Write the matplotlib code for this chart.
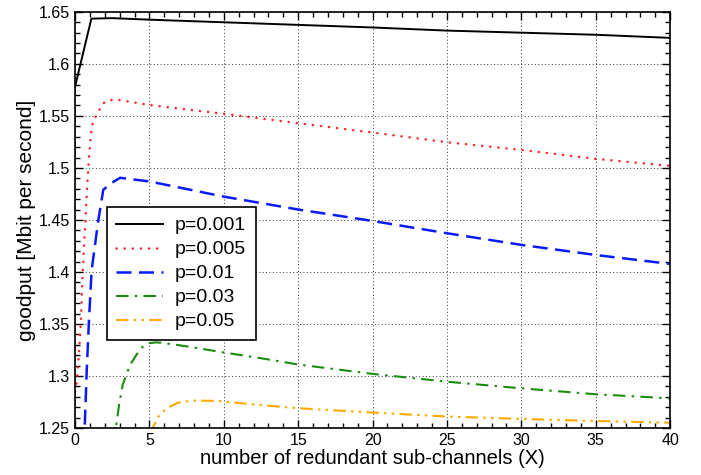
import matplotlib
matplotlib.use("Agg")
import matplotlib.pyplot as plt
from matplotlib.ticker import MultipleLocator

plt.rcParams['font.family'] = ['Liberation Sans', 'DejaVu Sans']

# goodput curves, one per loss rate p
x_001 = [0, 1.1, 2.5, 5, 10, 15, 20, 25, 30, 35, 40]
y_001 = [1.578, 1.6435, 1.644, 1.6425, 1.640, 1.6375, 1.635, 1.632, 1.630, 1.628, 1.625]

x_005 = [0, 0.11, 0.27, 0.4, 0.52, 0.79, 0.94, 1.12, 1.5, 2.0, 2.5, 3.0, 5, 10, 15, 20, 25, 30, 35, 40]
y_005 = [1.285, 1.293, 1.322, 1.354, 1.40, 1.475, 1.511, 1.540, 1.553, 1.5635, 1.5655, 1.5652, 1.5605, 1.552,
         1.543, 1.534, 1.5247, 1.5173, 1.5087, 1.502]

x_01 = [0.55, 0.79, 0.94, 1.12, 1.57, 1.9, 2.47, 3.03, 5, 10, 15, 20, 25, 30, 35, 40]
y_01 = [1.21, 1.3058, 1.354, 1.402, 1.45, 1.479, 1.4856, 1.4905, 1.487, 1.4724, 1.460, 1.449, 1.4372, 1.426,
        1.4163, 1.4077]

x_03 = [2.6, 2.96, 3.2, 3.7, 4.41, 4.93, 5.4, 5.82, 7.73, 9.63, 12.4, 15, 20, 25, 30, 35, 40]
y_03 = [1.235, 1.272, 1.2913, 1.3106, 1.3266, 1.3314, 1.3322, 1.332, 1.328, 1.3234, 1.3173, 1.311, 1.302,
        1.2945, 1.2881, 1.2824, 1.2785]

x_05 = [5.05, 5.6, 6.16, 6.94, 7.95, 9.63, 12.4, 15, 20, 25, 30, 35, 40]
y_05 = [1.245, 1.2609, 1.269, 1.2744, 1.2763, 1.276, 1.2721, 1.269, 1.2648, 1.261, 1.2587, 1.2567, 1.2551]

y_ticks = [1.25, 1.3, 1.35, 1.4, 1.45, 1.5, 1.55, 1.6, 1.65]
y_tick_labels = ['1.25', '1.3', '1.35', '1.4', '1.45', '1.5', '1.55', '1.6', '1.65']

fig = plt.figure(figsize=(7.01, 4.75), dpi=100)
ax = fig.add_axes([0.107, 0.099, 0.849, 0.876])

ax.plot(x_001, y_001, color='black', lw=1.4, ls='-', label='p=0.001')
ax.plot(x_005, y_005, color='#ff2020', lw=1.8, ls=(0, (0.05, 3.2)), dash_capstyle='round', label='p=0.005')
ax.plot(x_01, y_01, color='#0a1aff', lw=1.8, ls=(0, (6, 3)), label='p=0.01')
ax.plot(x_03, y_03, color='#1a8c10', lw=1.5, ls=(0, (6, 3, 1.2, 3)), label='p=0.03')
ax.plot(x_05, y_05, color='#ffaa00', lw=1.5, ls=(0, (6, 2.5, 1.2, 2.5, 1.2, 2.5)), label='p=0.05')

ax.set_xlim(0, 40)
ax.set_ylim(1.25, 1.65)
ax.xaxis.set_major_locator(MultipleLocator(5))
ax.xaxis.set_minor_locator(MultipleLocator(1))
ax.set_yticks(y_ticks)
ax.set_yticklabels(y_tick_labels)
ax.yaxis.set_minor_locator(MultipleLocator(0.01))

ax.tick_params(which='both', direction='in', top=True, right=True, labelsize=11.5, width=1.0)
ax.tick_params(which='major', length=6)
ax.tick_params(which='minor', length=3.5)
for s in ax.spines.values():
    s.set_linewidth(1.2)

ax.grid(True, which='major', ls=(0, (1, 2.5)), color='black', lw=0.7, alpha=0.8)

ax.set_xlabel('number of redundant sub-channels (X)', fontsize=14.5, labelpad=1)
ax.set_ylabel('goodput [Mbit per second]', fontsize=15, labelpad=2)

leg = ax.legend(loc='upper left', bbox_to_anchor=(0.053, 0.531), fontsize=14, fancybox=False,
                framealpha=1, edgecolor='black', handlelength=2.4, borderpad=0.5, labelspacing=0.33,
                handletextpad=0.6, borderaxespad=0)
leg.get_frame().set_linewidth(1.2)

fig.savefig('out.png', dpi=100)
